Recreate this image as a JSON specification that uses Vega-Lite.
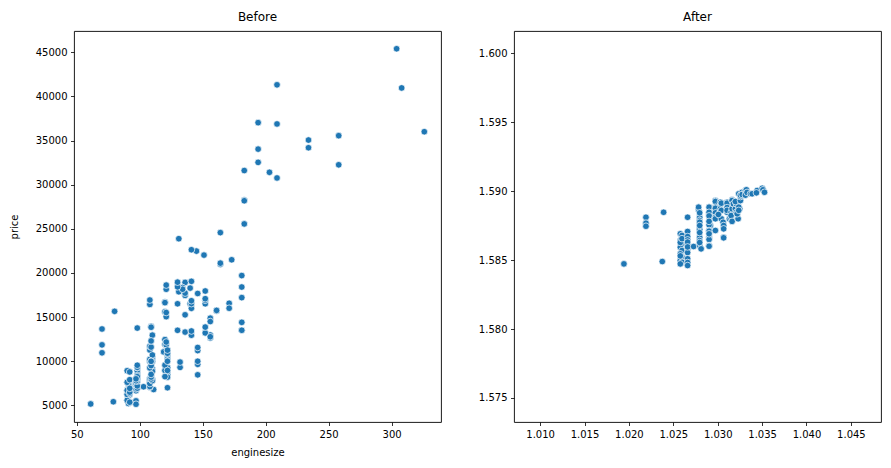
{
  "$schema": "https://vega.github.io/schema/vega-lite/v6.json",
  "padding": {"left": 8, "top": 10, "right": 5, "bottom": 5},
  "background": "white",
  "bounds": "flush",
  "spacing": 73,
  "config": {
    "font": "DejaVu Sans",
    "view": {"stroke": "#000", "strokeWidth": 0.9},
    "axis": {"grid": false, "domain": false, "tickColor": "#000", "tickSize": 3.5, "tickWidth": 0.8, "labelFontSize": 10, "labelColor": "#000", "labelPadding": 3.5, "titleFontSize": 10, "titleFontWeight": "normal", "titleColor": "#000", "labelFont": "DejaVu Sans", "titleFont": "DejaVu Sans", "titlePadding": 5},
    "title": {"fontSize": 12, "fontWeight": "normal", "font": "DejaVu Sans", "color": "#000", "offset": 7}
  },
  "datasets": {
    "before": [
      {"enginesize":130,"price":13495},{"enginesize":130,"price":16500},{"enginesize":152,"price":16500},{"enginesize":109,"price":13950},{"enginesize":136,"price":17450},{"enginesize":136,"price":15250},{"enginesize":136,"price":17710},{"enginesize":136,"price":18920},{"enginesize":131,"price":23875},{"enginesize":131,"price":17859},
      {"enginesize":108,"price":16430},{"enginesize":108,"price":16925},{"enginesize":164,"price":20970},{"enginesize":164,"price":21105},{"enginesize":164,"price":24565},{"enginesize":209,"price":30760},{"enginesize":209,"price":41315},{"enginesize":209,"price":36880},{"enginesize":61,"price":5151},{"enginesize":90,"price":6295},
      {"enginesize":90,"price":6575},{"enginesize":90,"price":5572},{"enginesize":90,"price":6377},{"enginesize":98,"price":7957},{"enginesize":90,"price":6229},{"enginesize":90,"price":6692},{"enginesize":90,"price":7609},{"enginesize":98,"price":8558},{"enginesize":122,"price":8921},{"enginesize":156,"price":12964},
      {"enginesize":92,"price":6479},{"enginesize":92,"price":6855},{"enginesize":79,"price":5399},{"enginesize":92,"price":6529},{"enginesize":92,"price":7129},{"enginesize":92,"price":7295},{"enginesize":92,"price":7295},{"enginesize":110,"price":7895},{"enginesize":110,"price":9095},{"enginesize":110,"price":8845},
      {"enginesize":110,"price":10295},{"enginesize":110,"price":12945},{"enginesize":110,"price":10345},{"enginesize":111,"price":6785},{"enginesize":90,"price":8916},{"enginesize":90,"price":8916},{"enginesize":119,"price":11048},{"enginesize":258,"price":32250},{"enginesize":258,"price":35550},{"enginesize":326,"price":36000},
      {"enginesize":91,"price":5195},{"enginesize":91,"price":6095},{"enginesize":91,"price":6795},{"enginesize":91,"price":6695},{"enginesize":91,"price":7395},{"enginesize":70,"price":10945},{"enginesize":70,"price":11845},{"enginesize":70,"price":13645},{"enginesize":80,"price":15645},{"enginesize":122,"price":8845},
      {"enginesize":122,"price":8495},{"enginesize":122,"price":10595},{"enginesize":122,"price":10245},{"enginesize":122,"price":10795},{"enginesize":122,"price":11245},{"enginesize":140,"price":18280},{"enginesize":134,"price":18344},{"enginesize":183,"price":25552},{"enginesize":183,"price":28248},{"enginesize":183,"price":28176},
      {"enginesize":183,"price":31600},{"enginesize":234,"price":34184},{"enginesize":234,"price":35056},{"enginesize":308,"price":40960},{"enginesize":304,"price":45400},{"enginesize":140,"price":16503},{"enginesize":92,"price":5389},{"enginesize":92,"price":6189},{"enginesize":92,"price":6669},{"enginesize":98,"price":7689},
      {"enginesize":110,"price":9959},{"enginesize":122,"price":8499},{"enginesize":156,"price":12629},{"enginesize":156,"price":14869},{"enginesize":156,"price":14489},{"enginesize":122,"price":6989},{"enginesize":122,"price":8189},{"enginesize":122,"price":9279},{"enginesize":122,"price":9279},{"enginesize":97,"price":5499},
      {"enginesize":103,"price":7099},{"enginesize":97,"price":6649},{"enginesize":97,"price":6849},{"enginesize":97,"price":7349},{"enginesize":97,"price":7299},{"enginesize":97,"price":7799},{"enginesize":97,"price":7499},{"enginesize":97,"price":7999},{"enginesize":120,"price":8249},{"enginesize":120,"price":8949},
      {"enginesize":120,"price":9549},{"enginesize":181,"price":13499},{"enginesize":181,"price":14399},{"enginesize":181,"price":13499},{"enginesize":181,"price":17199},{"enginesize":181,"price":19699},{"enginesize":181,"price":18399},{"enginesize":120,"price":11900},{"enginesize":152,"price":13200},{"enginesize":120,"price":12440},
      {"enginesize":152,"price":13860},{"enginesize":120,"price":15580},{"enginesize":152,"price":16900},{"enginesize":120,"price":16695},{"enginesize":152,"price":17075},{"enginesize":120,"price":16630},{"enginesize":152,"price":17950},{"enginesize":134,"price":18150},{"enginesize":90,"price":5572},{"enginesize":98,"price":7957},
      {"enginesize":90,"price":6229},{"enginesize":90,"price":6692},{"enginesize":90,"price":7609},{"enginesize":98,"price":8921},{"enginesize":156,"price":12764},{"enginesize":151,"price":22018},{"enginesize":194,"price":32528},{"enginesize":194,"price":34028},{"enginesize":194,"price":37028},{"enginesize":203,"price":31400},
      {"enginesize":132,"price":9295},{"enginesize":132,"price":9895},{"enginesize":121,"price":11850},{"enginesize":121,"price":12170},{"enginesize":121,"price":15040},{"enginesize":121,"price":15510},{"enginesize":121,"price":18150},{"enginesize":121,"price":18620},{"enginesize":97,"price":5118},{"enginesize":108,"price":7053},
      {"enginesize":108,"price":7603},{"enginesize":108,"price":7126},{"enginesize":108,"price":7775},{"enginesize":108,"price":9960},{"enginesize":108,"price":9233},{"enginesize":108,"price":11259},{"enginesize":108,"price":7463},{"enginesize":108,"price":10198},{"enginesize":108,"price":8013},{"enginesize":108,"price":11694},
      {"enginesize":92,"price":5348},{"enginesize":92,"price":6338},{"enginesize":92,"price":6488},{"enginesize":92,"price":6918},{"enginesize":92,"price":7898},{"enginesize":92,"price":8778},{"enginesize":98,"price":6938},{"enginesize":98,"price":7198},{"enginesize":110,"price":7898},{"enginesize":110,"price":7788},
      {"enginesize":98,"price":7738},{"enginesize":98,"price":8358},{"enginesize":98,"price":9258},{"enginesize":98,"price":8058},{"enginesize":98,"price":8238},{"enginesize":98,"price":9298},{"enginesize":98,"price":9538},{"enginesize":146,"price":8449},{"enginesize":146,"price":9639},{"enginesize":146,"price":9989},
      {"enginesize":146,"price":11199},{"enginesize":146,"price":11549},{"enginesize":146,"price":17669},{"enginesize":122,"price":8948},{"enginesize":110,"price":10698},{"enginesize":122,"price":9988},{"enginesize":122,"price":10898},{"enginesize":122,"price":11248},{"enginesize":171,"price":16558},{"enginesize":171,"price":15998},
      {"enginesize":161,"price":15690},{"enginesize":161,"price":15750},{"enginesize":97,"price":7775},{"enginesize":109,"price":7975},{"enginesize":97,"price":7995},{"enginesize":109,"price":8195},{"enginesize":109,"price":8495},{"enginesize":109,"price":9495},{"enginesize":109,"price":9995},{"enginesize":109,"price":11595},
      {"enginesize":109,"price":9980},{"enginesize":136,"price":13295},{"enginesize":109,"price":13845},{"enginesize":109,"price":12290},{"enginesize":141,"price":12940},{"enginesize":141,"price":13415},{"enginesize":141,"price":15985},{"enginesize":141,"price":16515},{"enginesize":130,"price":18420},{"enginesize":130,"price":18950},
      {"enginesize":141,"price":16845},{"enginesize":141,"price":19045},{"enginesize":173,"price":21485},{"enginesize":145,"price":22470},{"enginesize":141,"price":22625},{"enginesize":98,"price":13750}
    ],
    "after": [
      {"x":1.01944,"y":1.58472},
      {"x":1.02192,"y":1.58810},{"x":1.02192,"y":1.58767},{"x":1.02192,"y":1.58745},
      {"x":1.02376,"y":1.58489},{"x":1.02391,"y":1.58846},
      {"x":1.02579,"y":1.58690},{"x":1.02598,"y":1.58678},{"x":1.02579,"y":1.58641},{"x":1.02598,"y":1.58617},{"x":1.02579,"y":1.58593},{"x":1.02598,"y":1.58569},{"x":1.02579,"y":1.58545},{"x":1.02598,"y":1.58520},{"x":1.02579,"y":1.58496},{"x":1.02598,"y":1.58484},{"x":1.02579,"y":1.58472},{"x":1.02579,"y":1.58627},{"x":1.02598,"y":1.58655},{"x":1.02579,"y":1.58530},
      {"x":1.02661,"y":1.58810},{"x":1.02661,"y":1.58707},{"x":1.02661,"y":1.58670},{"x":1.02661,"y":1.58646},{"x":1.02661,"y":1.58612},{"x":1.02661,"y":1.58581},{"x":1.02661,"y":1.58554},{"x":1.02661,"y":1.58509},{"x":1.02661,"y":1.58482},{"x":1.02661,"y":1.58460},{"x":1.02661,"y":1.58630},{"x":1.02661,"y":1.58595},
      {"x":1.02729,"y":1.58598},
      {"x":1.02785,"y":1.58864},{"x":1.02785,"y":1.58883},{"x":1.02797,"y":1.58810},{"x":1.02797,"y":1.58786},{"x":1.02797,"y":1.58774},{"x":1.02797,"y":1.58726},{"x":1.02797,"y":1.58721},{"x":1.02797,"y":1.58665},{"x":1.02797,"y":1.58605},{"x":1.02813,"y":1.58581},{"x":1.02797,"y":1.58842},{"x":1.02797,"y":1.58750},{"x":1.02797,"y":1.58699},{"x":1.02797,"y":1.58641},{"x":1.02797,"y":1.58627},
      {"x":1.02903,"y":1.58883},{"x":1.02903,"y":1.58835},{"x":1.02903,"y":1.58846},{"x":1.02917,"y":1.58799},{"x":1.02917,"y":1.58750},{"x":1.02903,"y":1.58755},{"x":1.02903,"y":1.58714},{"x":1.02903,"y":1.58709},{"x":1.02903,"y":1.58665},{"x":1.02903,"y":1.58649},{"x":1.02903,"y":1.58605},{"x":1.02903,"y":1.58600},{"x":1.02903,"y":1.58820},{"x":1.02903,"y":1.58780},{"x":1.02903,"y":1.58690},
      {"x":1.02974,"y":1.58931},{"x":1.02974,"y":1.58924},{"x":1.02974,"y":1.58883},{"x":1.02974,"y":1.58875},{"x":1.02974,"y":1.58842},{"x":1.02974,"y":1.58810},{"x":1.02974,"y":1.58799},{"x":1.02974,"y":1.58714},{"x":1.03030,"y":1.58919},{"x":1.03030,"y":1.58871},{"x":1.03041,"y":1.58912},{"x":1.03041,"y":1.58859},{"x":1.03041,"y":1.58799},{"x":1.03008,"y":1.58830},
      {"x":1.03061,"y":1.58774},{"x":1.03067,"y":1.58750},{"x":1.03067,"y":1.58726},{"x":1.03067,"y":1.58665},{"x":1.03067,"y":1.58661},{"x":1.03106,"y":1.58919},{"x":1.03106,"y":1.58912},{"x":1.03106,"y":1.58846},{"x":1.03132,"y":1.58799},{"x":1.03106,"y":1.58880},{"x":1.03106,"y":1.58860},
      {"x":1.03151,"y":1.58846},{"x":1.03162,"y":1.58936},{"x":1.03162,"y":1.58931},{"x":1.03162,"y":1.58871},{"x":1.03151,"y":1.58800},{"x":1.03151,"y":1.58822},{"x":1.03162,"y":1.58780},
      {"x":1.03177,"y":1.58907},{"x":1.03199,"y":1.58871},{"x":1.03211,"y":1.58907},{"x":1.03219,"y":1.58835},{"x":1.03230,"y":1.58799},{"x":1.03211,"y":1.58846},{"x":1.03248,"y":1.58871},{"x":1.03199,"y":1.58924},
      {"x":1.03256,"y":1.58931},{"x":1.03237,"y":1.58883},{"x":1.03219,"y":1.58835},{"x":1.03237,"y":1.58980},{"x":1.03237,"y":1.58860},{"x":1.03256,"y":1.58960},{"x":1.03256,"y":1.58970},
      {"x":1.03275,"y":1.58991},{"x":1.03293,"y":1.58980},{"x":1.03275,"y":1.58975},
      {"x":1.03312,"y":1.59004},{"x":1.03323,"y":1.59009},{"x":1.03331,"y":1.58980},{"x":1.03312,"y":1.58970},{"x":1.03331,"y":1.58990},
      {"x":1.03369,"y":1.58980},{"x":1.03388,"y":1.58980},
      {"x":1.03444,"y":1.59004},{"x":1.03436,"y":1.58987},
      {"x":1.03501,"y":1.59020},{"x":1.03510,"y":1.59009},{"x":1.03527,"y":1.58991}
    ]
  },
  "hconcat": [
    {
      "title": "Before",
      "width": 367,
      "height": 391,
      "data": {"name": "before"},
      "mark": {"type": "circle", "size": 44, "fill": "#1f77b4", "opacity": 1, "stroke": "white", "strokeWidth": 0.7},
      "encoding": {
        "x": {"field": "enginesize", "type": "quantitative", "title": "enginesize",
              "scale": {"domain": [47.75, 339.25], "zero": false, "nice": false},
              "axis": {"values": [50, 100, 150, 200, 250, 300], "format": "d", "titlePadding": 8}},
        "y": {"field": "price", "type": "quantitative", "title": "price",
              "scale": {"domain": [3104, 47414], "zero": false, "nice": false},
              "axis": {"values": [5000, 10000, 15000, 20000, 25000, 30000, 35000, 40000, 45000], "format": "d", "titlePadding": 16}}
      }
    },
    {
      "title": "After",
      "width": 367,
      "height": 391,
      "data": {"name": "after"},
      "mark": {"type": "circle", "size": 44, "fill": "#1f77b4", "opacity": 1, "stroke": "white", "strokeWidth": 0.7},
      "encoding": {
        "x": {"field": "x", "type": "quantitative", "title": null,
              "scale": {"domain": [1.00706, 1.04839], "zero": false, "nice": false},
              "axis": {"values": [1.010, 1.015, 1.020, 1.025, 1.030, 1.035, 1.040, 1.045], "format": ".3f"}},
        "y": {"field": "y", "type": "quantitative", "title": null,
              "scale": {"domain": [1.57326, 1.6016], "zero": false, "nice": false},
              "axis": {"values": [1.575, 1.580, 1.585, 1.590, 1.595, 1.600], "format": ".3f"}}
      }
    }
  ]
}
